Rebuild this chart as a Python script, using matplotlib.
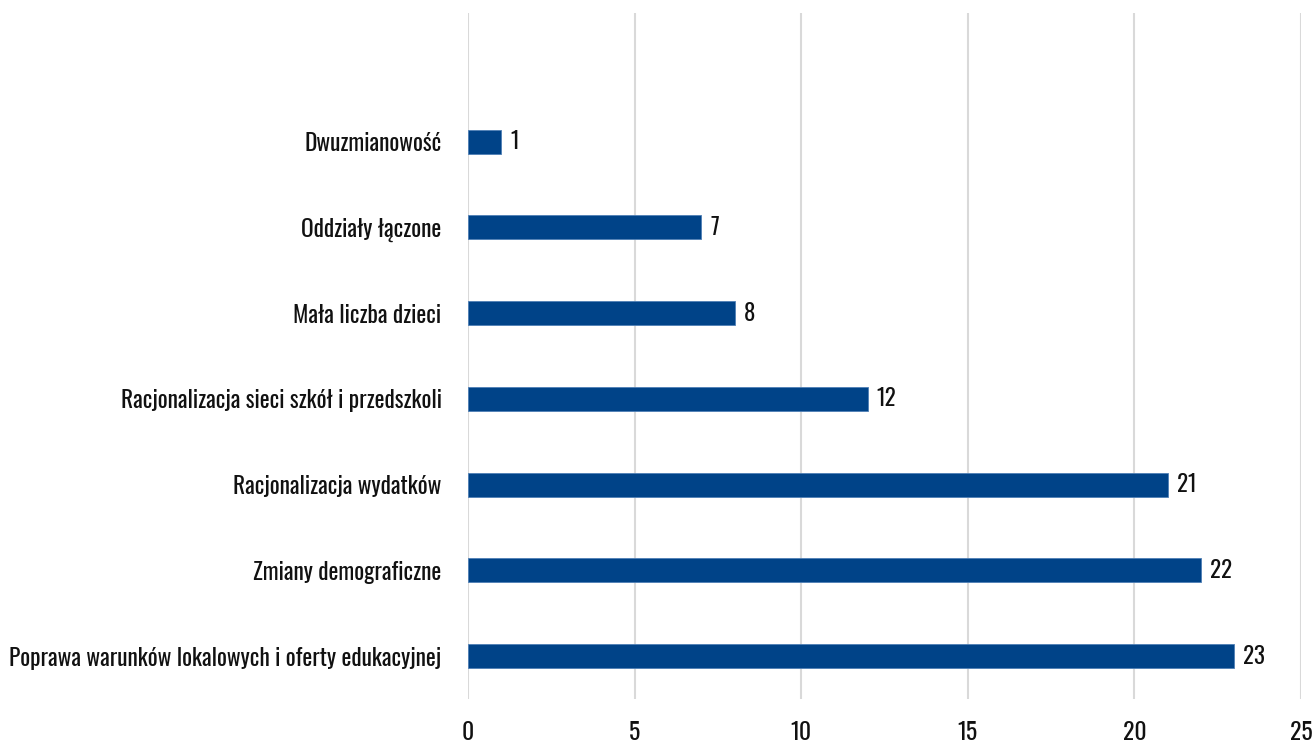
import matplotlib.pyplot as plt
from matplotlib import font_manager

# dane
categories = [
    "Poprawa warunków lokalowych i oferty edukacyjnej",
    "Zmiany demograficzne",
    "Racjonalizacja wydatków",
    "Racjonalizacja sieci szkół i przedszkoli",
    "Mała liczba dzieci",
    "Oddziały łączone",
    "Dwuzmianowość",
]
values = [23, 22, 21, 12, 8, 7, 1]
x_ticks = [0, 5, 10, 15, 20, 25]

names = {f.name for f in font_manager.fontManager.ttflist}
font = "Oswald" if "Oswald" in names else "DejaVu Sans"
plt.rcParams['font.family'] = [font, 'DejaVu Sans']

fig = plt.figure(figsize=(13.16, 7.47), dpi=100)
ax = fig.add_axes([0.3556, 0.0643, 0.6330, 0.9183])

pos = list(range(len(categories)))
ax.barh(pos, values, height=0.28, color='#004388', edgecolor='#4f7fb5',
        linewidth=0.6, zorder=3)
for p, v in zip(pos, values):
    ax.text(v + 0.27, p, str(v), va='center', ha='left', fontsize=16.5,
            color='#111111')

ax.set_xlim(0, 25)
ax.set_ylim(-0.5, 7.5)
ax.set_xticks(x_ticks)
ax.set_yticks(pos)
ax.set_yticklabels(categories)
ax.tick_params(axis='y', length=0, pad=19, labelsize=16.8, labelcolor='#111111')
ax.tick_params(axis='x', length=0, pad=16, labelsize=17, labelcolor='#111111')
ax.grid(axis='x', color='#d9d9d9', linewidth=1.5, zorder=0)
for s in ax.spines.values():
    s.set_visible(False)

fig.savefig("out.png", dpi=100)
